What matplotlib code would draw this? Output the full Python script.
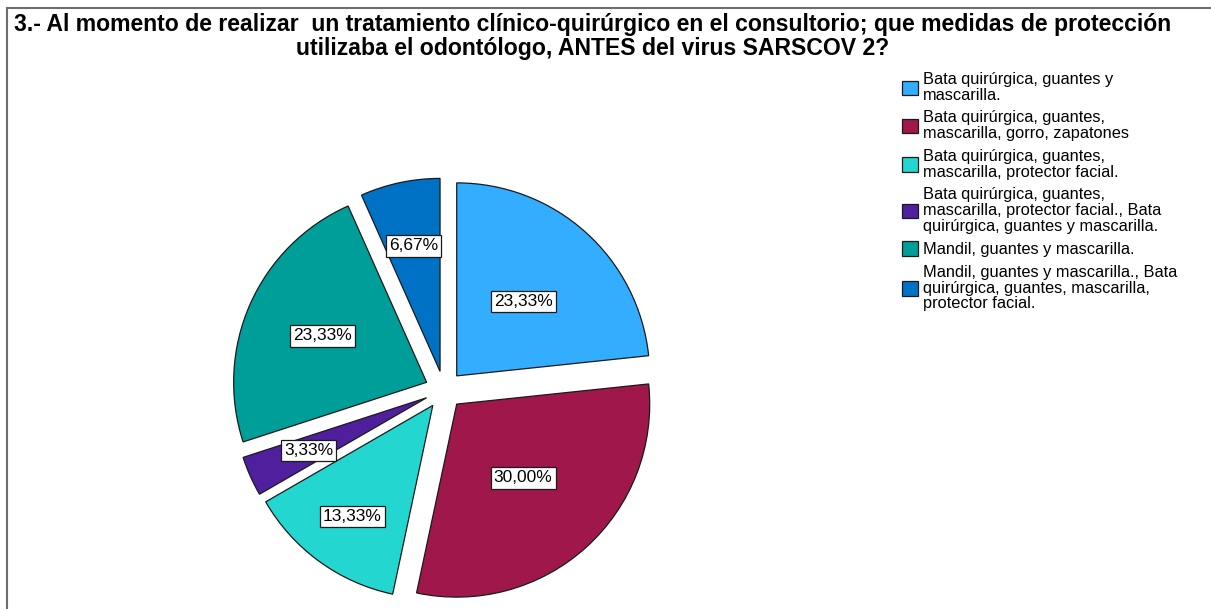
import matplotlib
matplotlib.use("Agg")
import matplotlib.pyplot as plt
import numpy as np
from matplotlib.lines import Line2D

plt.rcParams['font.family'] = ['Liberation Sans', 'DejaVu Sans']

title = ("3.- Al momento de realizar  un tratamiento clínico-quirúrgico en el consultorio; que medidas de protección\n"
         "utilizaba el odontólogo, ANTES del virus SARSCOV 2?")
categories = [
    "Bata quirúrgica, guantes y\nmascarilla.",
    "Bata quirúrgica, guantes,\nmascarilla, gorro, zapatones",
    "Bata quirúrgica, guantes,\nmascarilla, protector facial.",
    "Bata quirúrgica, guantes,\nmascarilla, protector facial., Bata\nquirúrgica, guantes y mascarilla.",
    "Mandil, guantes y mascarilla.",
    "Mandil, guantes y mascarilla., Bata\nquirúrgica, guantes, mascarilla,\nprotector facial.",
]
percentages = [23.33, 30.00, 13.33, 3.33, 23.33, 6.67]
pct_labels = ["23,33%", "30,00%", "13,33%", "3,33%", "23,33%", "6,67%"]
colors = ["#33adff", "#a0174b", "#23d6cf", "#4f1f9e", "#009e98", "#0072c6"]

W, H = 1211, 609
fig = plt.figure(figsize=(W / 100, H / 100), dpi=100)
fig.patch.set_facecolor("white")
ax = fig.add_axes([0, 0, 1, 1])

cx, cy, r = 444, H - 390, 193
expl = [19] * len(percentages)
wedges, _ = ax.pie(percentages, colors=colors, startangle=90, counterclock=False,
                   center=(cx, cy), radius=r, explode=expl,
                   wedgeprops=dict(edgecolor="#1a1a1a", linewidth=0.9))

label_dist = [0.52, 0.515, 0.71, 0.67, 0.59, 0.665]
for w, lab, d in zip(wedges, pct_labels, label_dist):
    th = np.deg2rad((w.theta1 + w.theta2) / 2)
    x0, y0 = w.center
    ax.text(x0 + d * r * np.cos(th), y0 + d * r * np.sin(th), lab,
            ha="center", va="center", fontsize=12.5,
            bbox=dict(boxstyle="square,pad=0.18", facecolor="white",
                      edgecolor="#1a1a1a", linewidth=0.9))

ax.set_xlim(0, W)
ax.set_ylim(0, H)
ax.set_aspect("auto")
ax.axis("off")

fig.text(593 / W, 1 - 13 / H, title, ha="center", va="top", fontsize=16.6,
         fontweight="bold", linespacing=1.08)

leg = ax.legend(wedges, categories, loc="upper left",
                bbox_to_anchor=(902 / W, 1 - 72 / H), bbox_transform=fig.transFigure,
                frameon=False, fontsize=11.8, handlelength=0.97, handleheight=0.97,
                handletextpad=0.3, labelspacing=0.48, borderaxespad=0, borderpad=0)
for t in leg.get_texts():
    t.set_linespacing(1.05)

# frame lines
fig.add_artist(Line2D([7 / W, 1], [1 - 8 / H, 1 - 8 / H], transform=fig.transFigure,
                      color="#6e6e6e", linewidth=1.5))
fig.add_artist(Line2D([7 / W, 7 / W], [0, 1 - 8 / H], transform=fig.transFigure,
                      color="#6e6e6e", linewidth=1.5))

fig.savefig("out.png", dpi=100)
